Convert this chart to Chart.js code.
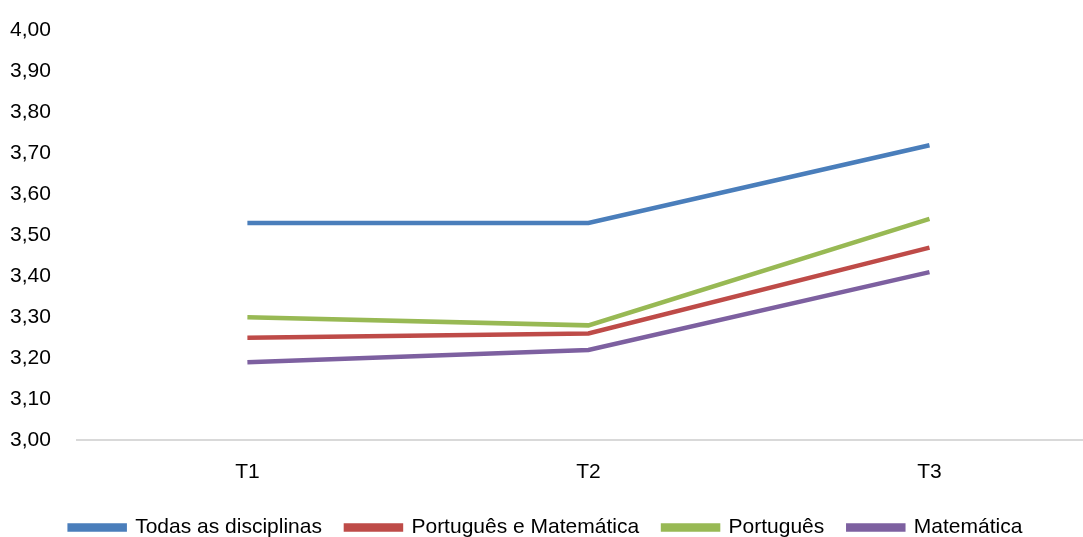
<!DOCTYPE html>
<html>
<head>
<meta charset="utf-8">
<script src="https://cdn.jsdelivr.net/npm/chart.js@4"></script>
<style>
  html, body { margin: 0; padding: 0; background: #fff; overflow: hidden; }
  #wrap { width: 1100px; height: 548px; }
</style>
</head>
<body>
<div id="wrap"><canvas id="grafico"></canvas></div>
<script>
const labels = ['T1', 'T2', 'T3'];
const todas = [3.53, 3.53, 3.72];
const portMat = [3.25, 3.26, 3.47];
const portugues = [3.30, 3.28, 3.54];
const matematica = [3.19, 3.22, 3.41];
const yTicks = [3.0, 3.1, 3.2, 3.3, 3.4, 3.5, 3.6, 3.7, 3.8, 3.9, 4.0];

function serie(label, values, color) {
    return {
        label: label,
        data: values,
        borderColor: color,
        backgroundColor: color,
        borderWidth: 4.5,
        pointRadius: 0,
        tension: 0,
        fill: false
    };
}

const data = {
    labels: labels,
    datasets: [
        serie('Todas as disciplinas', todas, '#4a7ebb'),
        serie('Português e Matemática', portMat, '#be4b48'),
        serie('Português', portugues, '#98b954'),
        serie('Matemática', matematica, '#7d60a0')
    ]
};

const ctx = document.getElementById('grafico').getContext('2d');
new Chart(ctx, {
    type: 'line',
    data: data,
    options: {
        responsive: true,
        maintainAspectRatio: false,
        animation: false,
        layout: { padding: { top: 18, right: 0, left: -8, bottom: 0 } },
        plugins: {
            tooltip: { enabled: false },
            legend: {
                position: 'bottom',
                labels: {
                    boxWidth: 55,
                    boxHeight: 4,
                    padding: 24,
                    color: '#000',
                    font: { family: 'Liberation Sans', size: 21 }
                }
            }
        },
        scales: {
            x: {
                offset: true,
                grid: { display: false },
                border: { display: true, color: '#d9d9d9', width: 2 },
                afterFit: function(axis) { axis.height = 53; },
                ticks: {
                    color: '#000',
                    padding: 12,
                    font: { family: 'Liberation Sans', size: 21 }
                }
            },
            y: {
                min: 3.0,
                max: 4.0,
                afterBuildTicks: function(axis) {
                    axis.ticks = yTicks.map(v => ({ value: v }));
                },
                grid: { display: false },
                border: { display: false },
                ticks: {
                    color: '#000',
                    padding: 18,
                    font: { family: 'Liberation Sans', size: 21 },
                    callback: function(v) { return Number(v).toFixed(2).replace('.', ','); }
                }
            }
        }
    }
});
</script>
</body>
</html>
